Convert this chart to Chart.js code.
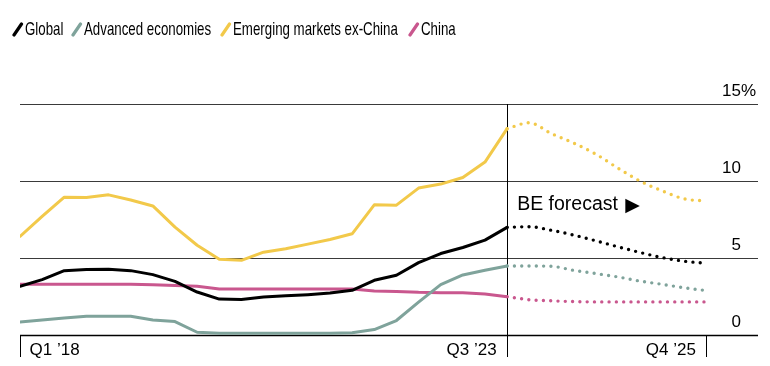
<!DOCTYPE html>
<html>
<head>
<meta charset="utf-8">
<script src="https://cdn.jsdelivr.net/npm/chart.js@4/dist/chart.umd.min.js"></script>
<style>
  html, body { margin: 0; padding: 0; background: #fff; }
  #wrap { position: relative; width: 770px; height: 366px; }
  #chart { position: absolute; left: 0; top: 0; }
  .leg { position: absolute; top: 17px; height: 24px; font-family: 'Liberation Sans', Arial, sans-serif; font-size: 19px; color: #000; white-space: nowrap; line-height: 24px; }
  .leg svg { position: absolute; top: 5px; }
  .leg span { position: absolute; top: 0; transform: scaleX(0.7); transform-origin: 0 50%; }
</style>
</head>
<body>
<div id="wrap">
  <canvas id="chart" width="770" height="366"></canvas>
  <div id="legend"></div>
</div>
<script>
// ---- Data (quarterly, index 0 = Q1 2018, 22 = Q3 2023, 31 = Q4 2025) ----
const seriesNames = ['Global', 'Advanced economies', 'Emerging markets ex-China', 'China'];
const seriesColors = ['#000000', '#7fa39b', '#f2c94a', '#c9578e'];

const globalHist = [3.16,3.6,4.18,4.25,4.27,4.18,3.92,3.48,2.79,2.33,2.31,2.46,2.55,2.62,2.72,2.9,3.55,3.88,4.7,5.29,5.68,6.16,6.99];
const globalFcst = [6.99,7.03,6.8,6.49,6.12,5.73,5.36,5.03,4.79,4.66];

const advHist = [0.85,0.98,1.11,1.22,1.22,1.22,0.98,0.87,0.18,0.11,0.11,0.11,0.11,0.11,0.12,0.15,0.35,0.94,2.13,3.27,3.9,4.2,4.48];
const advFcst = [4.48,4.48,4.46,4.2,3.99,3.77,3.5,3.29,3.07,2.88];

const emHist = [6.4,7.7,8.95,8.93,9.1,8.77,8.38,7.0,5.83,4.92,4.85,5.38,5.6,5.9,6.2,6.57,8.45,8.43,9.54,9.8,10.23,11.23,13.4];
const emFcst = [13.4,13.78,13.08,12.47,11.75,10.84,10.0,9.36,8.84,8.7];

const chinaHist = [3.29,3.29,3.29,3.29,3.29,3.29,3.27,3.22,3.16,2.98,2.98,2.98,2.98,2.98,2.98,2.98,2.85,2.83,2.77,2.75,2.75,2.66,2.49];
const chinaFcst = [2.49,2.29,2.22,2.17,2.15,2.15,2.15,2.15,2.15,2.15];

const forecastStart = 22;              // Q3 '23
const xTickIndex = [0, 22, 31];
const xTickLabels = ['Q1 \u201918', 'Q3 \u201923', 'Q4 \u201925'];
const yTickValues = [0, 5, 10, 15];
const yTickLabels = ['0', '5', '10', '15'];
const forecastLabel = 'BE forecast';

// ---- build datasets ----
function pts(arr, start) { return arr.map((v, i) => ({ x: start + i, y: v })); }
const histArrays = [globalHist, advHist, emHist, chinaHist];
const fcstArrays = [globalFcst, advFcst, emFcst, chinaFcst];
const datasets = [];
histArrays.forEach((arr, k) => {
  datasets.push({
    label: seriesNames[k], data: pts(arr, 0), borderColor: seriesColors[k],
    borderWidth: 3, pointRadius: 0, tension: 0, borderJoinStyle: 'round', borderCapStyle: 'round', order: k
  });
});
fcstArrays.forEach((arr, k) => {
  datasets.push({
    label: seriesNames[k] + ' forecast', data: pts(arr, forecastStart), borderColor: seriesColors[k],
    borderWidth: 3.4, pointRadius: 0, cubicInterpolationMode: 'monotone', borderDash: [0, 7.3], borderCapStyle: 'round', order: k
  });
});

// ---- legend (HTML) ----
const legendX = [12, 71, 220, 408];
const legend = document.getElementById('legend');
seriesNames.forEach((n, k) => {
  const d = document.createElement('div');
  d.className = 'leg';
  d.style.left = legendX[k] + 'px';
  d.innerHTML = '<svg width="12" height="16"><line x1="2" y1="13" x2="9.5" y2="2" stroke="' + seriesColors[k] + '" stroke-width="3.2" stroke-linecap="round"/></svg><span style="left:13px">' + n + '</span>';
  legend.appendChild(d);
});

// ---- custom drawing of axes/grid/labels ----
const FONT = "'Liberation Sans', Arial, sans-serif";
const decor = {
  id: 'decor',
  beforeDatasetsDraw(chart) {
    const { ctx, chartArea: a, scales: { x, y } } = chart;
    ctx.save();
    yTickValues.forEach(v => {
      const py = Math.round(y.getPixelForValue(v)) + 0.5;
      ctx.beginPath();
      ctx.strokeStyle = v === 0 ? '#000' : '#3a3a3a';
      ctx.lineWidth = v === 0 ? 1.3 : 1;
      ctx.moveTo(a.left, py); ctx.lineTo(a.right, py); ctx.stroke();
    });
    const y0 = y.getPixelForValue(0);
    xTickIndex.forEach(i => {
      const px = Math.round(x.getPixelForValue(i)) + 0.5;
      ctx.beginPath(); ctx.strokeStyle = '#000'; ctx.lineWidth = 1;
      const top = i === forecastStart ? y.getPixelForValue(15) : y0;
      ctx.moveTo(px, top); ctx.lineTo(px, y0 + 22); ctx.stroke();
    });
    ctx.restore();
  },
  afterDraw(chart) {
    const { ctx, scales: { x, y } } = chart;
    ctx.save();
    ctx.fillStyle = '#000';
    ctx.font = '17px ' + FONT;
    ctx.textBaseline = 'alphabetic';
    yTickValues.forEach((v, k) => {
      const py = y.getPixelForValue(v) - 8.5;
      ctx.textAlign = 'right';
      ctx.fillText(yTickLabels[k], 741, py);
      if (v === 15) { ctx.textAlign = 'left'; ctx.fillText('%', 741, py); }
    });
    const base = y.getPixelForValue(0) + 19.5;
    xTickIndex.forEach((i, k) => {
      const px = x.getPixelForValue(i);
      if (k === 0) { ctx.textAlign = 'left'; ctx.fillText(xTickLabels[k], px + 9.5, base); }
      else { ctx.textAlign = 'right'; ctx.fillText(xTickLabels[k], px - 10.5, base); }
    });
    ctx.font = '19.5px ' + FONT;
    ctx.textAlign = 'left';
    const fx = x.getPixelForValue(forecastStart) + 10;
    const fy = 210;
    ctx.fillText(forecastLabel, fx, fy);
    const w = ctx.measureText(forecastLabel + ' ').width;
    ctx.font = '19px DejaVu Sans, sans-serif';
    ctx.fillText('\u25B6', fx + w + 2, fy + 0.5);
    ctx.restore();
  }
};

new Chart(document.getElementById('chart'), {
  type: 'line',
  data: { datasets },
  options: {
    responsive: false,
    animation: false,
    events: [],
    layout: { padding: { left: 20, right: 12, top: 104, bottom: 31 } },
    plugins: { legend: { display: false }, tooltip: { enabled: false } },
    scales: {
      x: { type: 'linear', display: false, min: 0, max: 33.33 },
      y: { type: 'linear', display: false, min: 0, max: 15 }
    }
  },
  plugins: [decor]
});
</script>
</body>
</html>
